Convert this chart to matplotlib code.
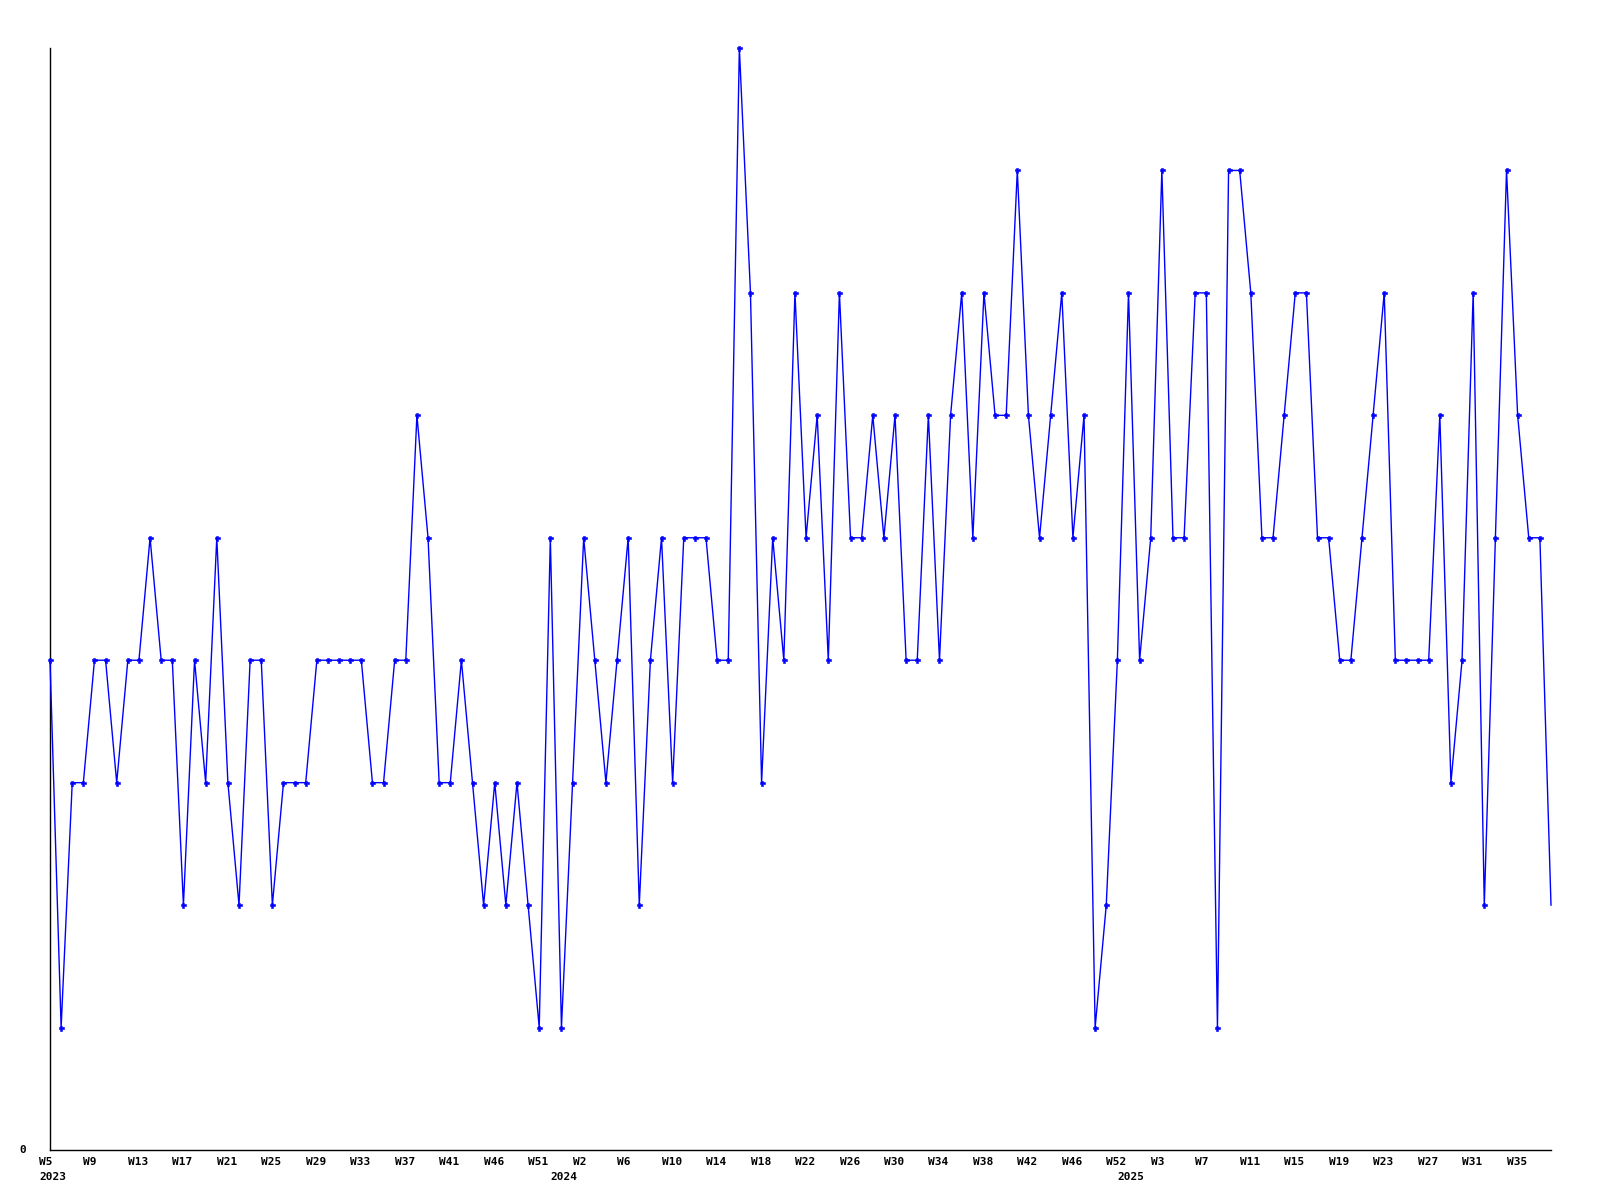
import matplotlib
matplotlib.use("Agg")
import matplotlib.pyplot as plt
import matplotlib.transforms as mtransforms

# weekly values, 2023 W5 onwards (136 weeks)
values = [
    4, 1, 3, 3, 4, 4, 3, 4, 4, 5, 4, 4, 2, 4, 3, 5, 3, 2, 4, 4,
    2, 3, 3, 3, 4, 4, 4, 4, 4, 3, 3, 4, 4, 6, 5, 3, 3, 4, 3, 2,
    3, 2, 3, 2, 1, 5, 1, 3, 5, 4, 3, 4, 5, 2, 4, 5, 3, 5, 5, 5,
    4, 4, 9, 7, 3, 5, 4, 7, 5, 6, 4, 7, 5, 5, 6, 5, 6, 4, 4, 6,
    4, 6, 7, 5, 7, 6, 6, 8, 6, 5, 6, 7, 5, 6, 1, 2, 4, 7, 4, 5,
    8, 5, 5, 7, 7, 1, 8, 8, 7, 5, 5, 6, 7, 7, 5, 5, 4, 4, 5, 6,
    7, 4, 4, 4, 4, 6, 3, 4, 7, 2, 5, 8, 6, 5, 5, 2,
]

tick_labels = [
    "W5", "W9", "W13", "W17", "W21", "W25", "W29", "W33", "W37", "W41",
    "W46", "W51", "W2", "W6", "W10", "W14", "W18", "W22", "W26", "W30",
    "W34", "W38", "W42", "W46", "W52", "W3", "W7", "W11", "W15", "W19",
    "W23", "W27", "W31", "W35",
]
tick_step = 4

year_labels = ["2023", "2024", "2025"]
year_index = [0, 46, 97]

W, H = 1600, 1200
fig = plt.figure(figsize=(16, 12), dpi=100)
fig.patch.set_facecolor("white")

left_px, right_px, top_px, bottom_px = 50, 1551, 48, 1150
ax = fig.add_axes([left_px / W, 1 - bottom_px / H,
                   (right_px - left_px) / W, (bottom_px - top_px) / H])

x = list(range(len(values)))
ax.plot(x, values, color="#0000ff", linewidth=1.0,
        marker="P", markersize=3.6, markeredgewidth=0.4,
        markeredgecolor="#0000ff", markerfacecolor="#0000ff",
        markevery=list(range(len(values) - 1)), clip_on=False, zorder=3)

ax.set_xlim(0, len(values) - 1)
ax.set_ylim(0, 9)
ax.set_xticks([])
ax.set_yticks([])
for s in ("top", "right"):
    ax.spines[s].set_visible(False)
for s in ("left", "bottom"):
    ax.spines[s].set_linewidth(1.0)
    ax.spines[s].set_color("black")

font = dict(family="DejaVu Sans Mono", fontweight="bold", fontsize=8, color="black")

blend = mtransforms.blended_transform_factory(ax.transData, fig.transFigure)
offset = mtransforms.ScaledTranslation(-11 / 100, 0, fig.dpi_scale_trans)
tr = blend + offset

for i, lab in enumerate(tick_labels):
    ax.text(i * tick_step, 1 - 1162 / H, lab, transform=tr,
            ha="left", va="center", clip_on=False, **font)

for idx, lab in zip(year_index, year_labels):
    ax.text(idx, 1 - 1177 / H, lab, transform=tr,
            ha="left", va="center", clip_on=False, **font)

fig.text(26 / W, 1 - 1150 / H, "0", ha="right", va="center", **font)

fig.savefig("out.png", dpi=100, facecolor="white")
